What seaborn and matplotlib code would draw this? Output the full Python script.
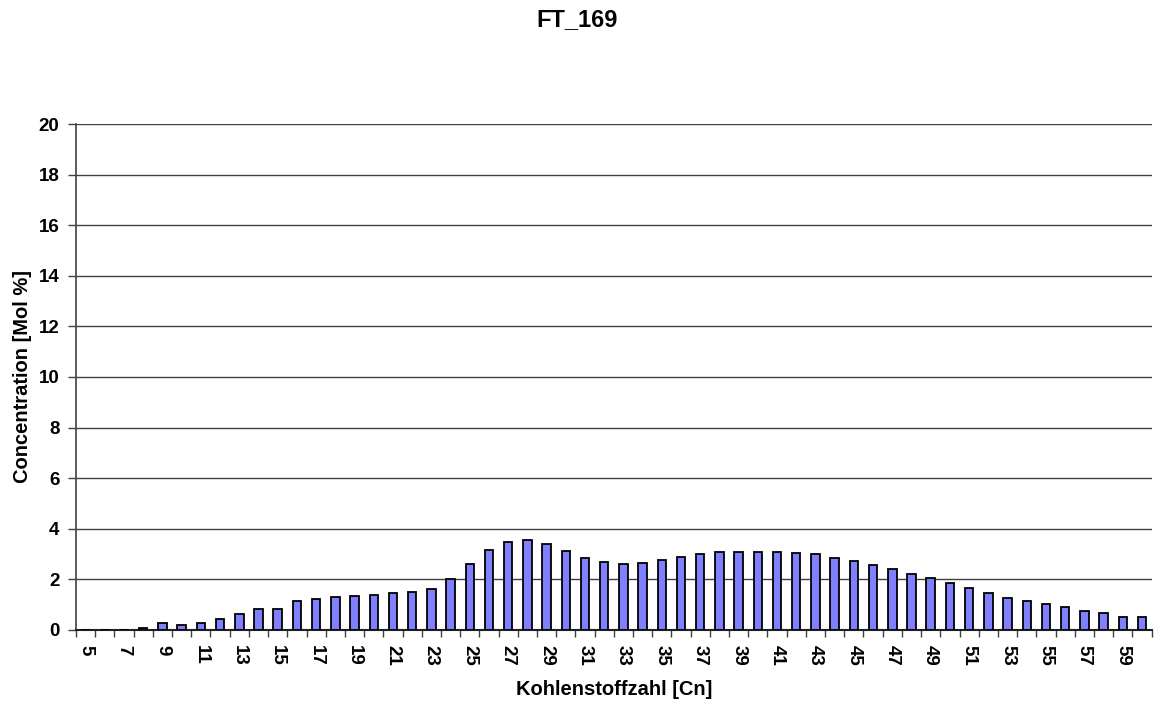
import numpy as np
import pandas as pd
import seaborn as sns
import matplotlib.pyplot as plt

# Data
carbon = list(range(5, 61))
conc = [0.0, 0.0, 0.0, 0.09, 0.27, 0.19, 0.28, 0.44, 0.64, 0.83,
        0.81, 1.15, 1.23, 1.29, 1.35, 1.40, 1.45, 1.49, 1.63, 2.00,
        2.61, 3.16, 3.49, 3.55, 3.40, 3.11, 2.84, 2.67, 2.61, 2.65,
        2.75, 2.87, 2.99, 3.07, 3.09, 3.09, 3.07, 3.03, 2.99, 2.85,
        2.71, 2.57, 2.41, 2.23, 2.04, 1.85, 1.64, 1.48, 1.28, 1.13,
        1.01, 0.89, 0.76, 0.67, 0.51, 0.51]
title = "FT_169"

df = pd.DataFrame({"Cn": [str(c) for c in carbon], "conc": conc})

sns.set_style("white")
plt.rcParams['font.family'] = ['Liberation Sans', 'DejaVu Sans']
plt.rcParams['text.color'] = 'black'
plt.rcParams['axes.labelcolor'] = 'black'
plt.rcParams['xtick.color'] = 'black'
plt.rcParams['ytick.color'] = 'black'

fig = plt.figure(figsize=(11.54, 7.01), dpi=100)
ax = fig.add_axes([0.0659, 0.1013, 0.932, 0.7218])

sns.barplot(data=df, x="Cn", y="conc", color="#8080FF", saturation=1,
            edgecolor="black", linewidth=1.3, width=0.44, ax=ax, zorder=3)

# axes / grid
ax.set_ylim(0, 20)
ax.set_xlim(-0.5, len(carbon) - 0.5)
ax.set_yticks(np.arange(0, 21, 2))
ax.yaxis.grid(True, color="#404040", linewidth=1.0, zorder=0)
ax.set_axisbelow(True)
for s in ["top", "right"]:
    ax.spines[s].set_visible(False)
ax.spines["left"].set_color("#404040")
ax.spines["bottom"].set_color("#202020")
ax.spines["left"].set_linewidth(1.2)
ax.spines["bottom"].set_linewidth(1.5)

# x ticks: labels every other category, tick marks at boundaries
ax.set_xticks(range(0, len(carbon), 2))
ax.set_xticklabels([str(c) for c in carbon[::2]], rotation=270,
                   fontsize=13.5, fontweight="bold")
ax.set_xticks(np.arange(-0.5, len(carbon), 1), minor=True)
ax.tick_params(axis="x", which="major", length=0, pad=11)
ax.tick_params(axis="x", which="minor", length=5, width=1, color="#404040",
               direction="out", bottom=True)
ax.tick_params(axis="y", length=6, width=1, color="#404040", direction="out",
               left=True, labelsize=13.5, pad=6)
for lab in ax.get_yticklabels():
    lab.set_fontweight("bold")

ax.set_xlabel("Kohlenstoffzahl [Cn]", fontsize=14.5, fontweight="bold", labelpad=10)
ax.set_ylabel("Concentration [Mol %]", fontsize=14.5, fontweight="bold", labelpad=5)
fig.suptitle(title, fontsize=17, fontweight="bold", y=0.988)

fig.savefig("out.png", dpi=100)
